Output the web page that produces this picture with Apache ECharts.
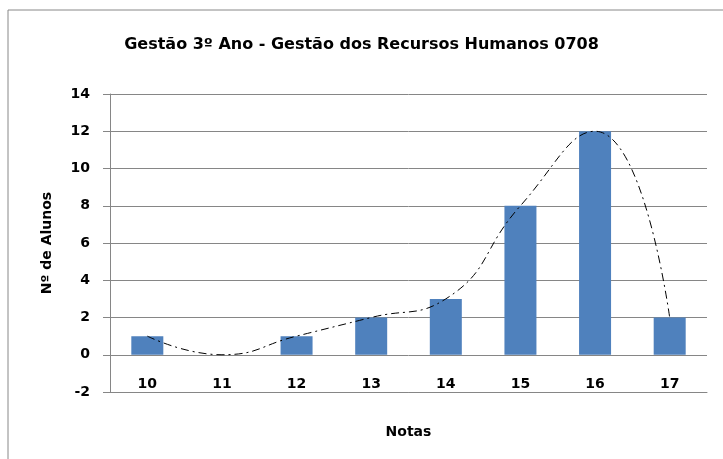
<!DOCTYPE html>
<html>
<head>
<meta charset="utf-8">
<script src="https://cdn.jsdelivr.net/npm/echarts@6/dist/echarts.min.js"></script>
<style>
html,body{margin:0;padding:0;background:#fff;}
#chart{width:723px;height:459px;}
</style>
</head>
<body>
<div id="chart"></div>
<script>
var notas=['10','11','12','13','14','15','16','17'];
var alunos=[1,0,1,2,3,8,12,2];
var yTicks=[-2,0,2,4,6,8,10,12,14];

var myChart=echarts.init(document.getElementById('chart'));
var fontF='"DejaVu Sans", Verdana, sans-serif';
var option={
    animation:false,
    backgroundColor:'#fff',
    graphic:[{
        type:'rect',
        shape:{x:8,y:10,width:760,height:500},
        style:{fill:'none',stroke:'#888',lineWidth:1}
    }],
    title:{
        text:'Gestão 3º Ano - Gestão dos Recursos Humanos 0708',
        left:'center',
        top:32,
        textStyle:{fontFamily:fontF,fontSize:16,fontWeight:'bold',color:'#000'}
    },
    grid:{left:110,right:16,top:94,bottom:67},
    xAxis:{
        type:'category',
        data:notas,
        name:'Notas',
        nameLocation:'middle',
        nameGap:33,
        nameTextStyle:{fontFamily:fontF,fontSize:14,fontWeight:'bold',color:'#000'},
        axisLine:{onZero:false,lineStyle:{color:'#868686'}},
        axisTick:{show:false},
        axisLabel:{inside:true,margin:1,fontFamily:fontF,fontSize:14,fontWeight:'bold',color:'#000'}
    },
    yAxis:{
        type:'value',
        min:-2,
        max:14,
        interval:2,
        name:'Nº de Alunos',
        nameLocation:'middle',
        nameGap:56,
        nameTextStyle:{fontFamily:fontF,fontSize:14,fontWeight:'bold',color:'#000'},
        axisLine:{show:true,lineStyle:{color:'#868686'}},
        axisTick:{show:true,length:7,lineStyle:{color:'#868686'}},
        axisLabel:{margin:20,fontFamily:fontF,fontSize:14,fontWeight:'bold',color:'#000',
            formatter:function(v){return yTicks.indexOf(v)>=0?String(v):'';}},
        splitLine:{lineStyle:{color:'#868686'}}
    },
    series:[
        {
            type:'bar',
            data:alunos,
            barWidth:32,
            itemStyle:{color:'#4F81BD'}
        },
        {
            type:'line',
            data:alunos,
            smooth:0.5,
            symbol:'none',
            lineStyle:{color:'#000',width:1,type:[8,4,2,4]}
        }
    ]
};
myChart.setOption(option);
</script>
</body>
</html>
